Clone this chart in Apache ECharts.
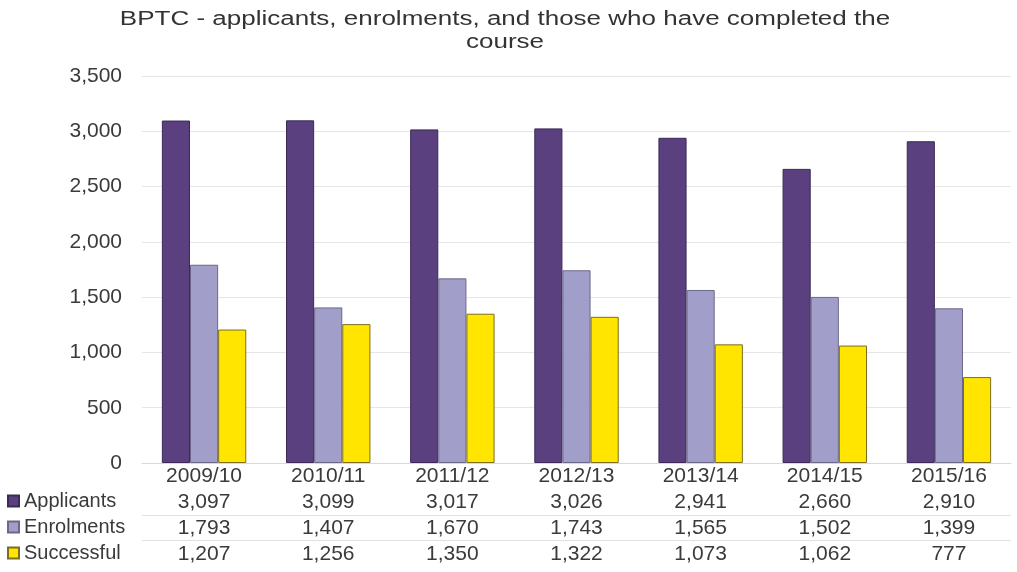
<!DOCTYPE html>
<html>
<head>
<meta charset="utf-8">
<script src="https://cdn.jsdelivr.net/npm/echarts@6/dist/echarts.min.js"></script>
<style>html,body{margin:0;padding:0;background:#fff;}#c{width:1017px;height:572px;}</style>
</head>
<body>
<div id="c"></div>
<script>
const categories = ['2009/10','2010/11','2011/12','2012/13','2013/14','2014/15','2015/16'];
const applicants = [3097, 3099, 3017, 3026, 2941, 2660, 2910];
const enrolments = [1793, 1407, 1670, 1743, 1565, 1502, 1399];
const successful = [1207, 1256, 1350, 1322, 1073, 1062, 777];
const yTicks = { min: 0, max: 3500, interval: 500 };
const titleText = 'BPTC - applicants, enrolments, and those who have completed the\ncourse';

const fmt = v => v.toLocaleString('en-US');
const FONT = 'Liberation Sans, Arial, sans-serif';
const TXT = '#3a3a3a';

const chart = echarts.init(document.getElementById('c'));
chart.setOption({
  animation: false,
  backgroundColor: '#ffffff',
  grid: { left: 142, right: 6, top: 76, bottom: 109, containLabel: false },
  legend: {
    orient: 'vertical', left: 7, top: 488, padding: 0, itemGap: 0,
    itemWidth: 11, itemHeight: 11, icon: 'rect',
    textStyle: { fontFamily: FONT, fontSize: 20, color: TXT, lineHeight: 26, height: 26 },
    data: ['Applicants', 'Enrolments', 'Successful']
  },
  xAxis: {
    type: 'category', data: categories,
    axisTick: { show: false },
    axisLine: { lineStyle: { color: '#d9d9d9' } },
    axisLabel: {
      margin: 0, interval: 0, fontFamily: FONT, fontSize: 21, color: TXT, lineHeight: 26,
      formatter: (v, i) => v + '\n' + fmt(applicants[i]) + '\n' + fmt(enrolments[i]) + '\n' + fmt(successful[i])
    }
  },
  yAxis: {
    type: 'value', min: yTicks.min, max: yTicks.max, interval: yTicks.interval,
    axisLine: { show: false }, axisTick: { show: false },
    splitLine: { lineStyle: { color: '#e6e6e6' } },
    axisLabel: { margin: 20, fontFamily: FONT, fontSize: 21, color: TXT }
  },
  graphic: [
    { type: 'text', x: 505, y: 8, scaleX: 1.3, scaleY: 1,
      style: { text: titleText, font: '20px ' + FONT, fill: '#333333', textAlign: 'center', textVerticalAlign: 'top', lineHeight: 23 } },
    { type: 'line', shape: { x1: 142, y1: 515.5, x2: 1011, y2: 515.5 }, style: { stroke: '#e0e0e0', lineWidth: 1 } },
    { type: 'line', shape: { x1: 142, y1: 540.5, x2: 1011, y2: 540.5 }, style: { stroke: '#e0e0e0', lineWidth: 1 } }
  ],
  series: [
    { name: 'Applicants', type: 'bar', data: applicants, barGap: '0%', barCategoryGap: '32%',
      itemStyle: { color: '#5a407e', borderColor: '#3a2a55', borderWidth: 1 } },
    { name: 'Enrolments', type: 'bar', data: enrolments,
      itemStyle: { color: '#a19ec9', borderColor: '#6b6889', borderWidth: 1 } },
    { name: 'Successful', type: 'bar', data: successful,
      itemStyle: { color: '#ffe500', borderColor: '#7d6e1e', borderWidth: 1 } }
  ]
});
</script>
</body>
</html>
